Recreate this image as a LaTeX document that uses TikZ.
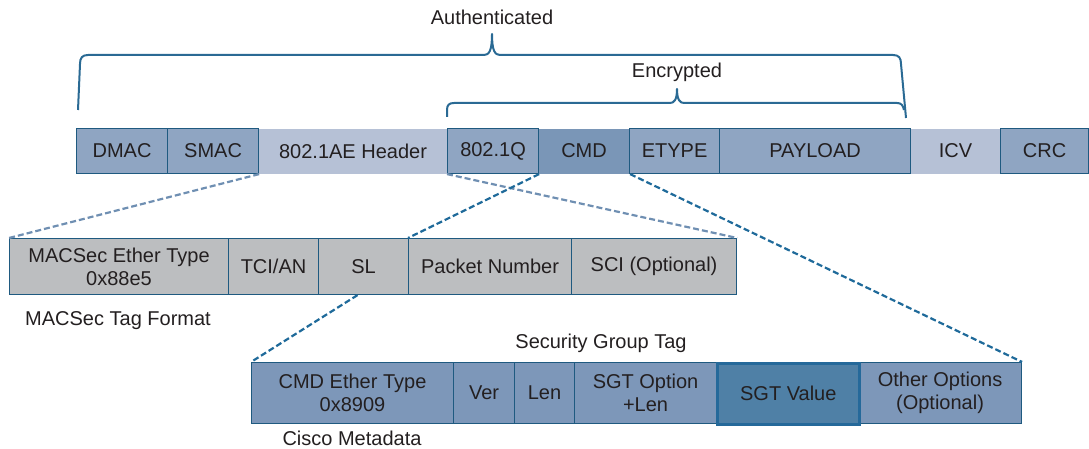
\documentclass[tikz,border=0pt]{standalone}
\usepackage{fontspec}
\setmainfont{Liberation Sans}
\definecolor{txt}{HTML}{231F20}
\definecolor{bord}{HTML}{1F5A80}
\definecolor{topfill}{HTML}{8FA5C2}
\definecolor{lightfill}{HTML}{B6C1D6}
\definecolor{cmdfill}{HTML}{7A96B7}
\definecolor{grayfill}{HTML}{BCBEC0}
\definecolor{botfill}{HTML}{7D97B9}
\definecolor{sgtfill}{HTML}{4F80A6}
\definecolor{sgtbord}{HTML}{25699A}
\definecolor{dashlight}{HTML}{6F8FB2}
\definecolor{dashdark}{HTML}{1F6A9A}
\definecolor{bracecol}{HTML}{2A6A94}
\tikzset{
  fieldbox/.style={rectangle, anchor=north west, inner sep=0pt, align=center,
    text=txt, font=\fontsize{20}{23}\selectfont, line width=1.1pt, draw=bord},
  topbox/.style={fieldbox, fill=topfill, minimum height=45pt},
  toplight/.style={fieldbox, draw=none, fill=lightfill, minimum height=45pt},
  topcmd/.style={fieldbox, draw=none, fill=cmdfill, minimum height=45pt},
  midbox/.style={fieldbox, fill=grayfill, minimum height=56pt},
  botbox/.style={fieldbox, fill=botfill, minimum height=61pt},
  sgtbox/.style={fieldbox, fill=sgtfill, draw=sgtbord, line width=2.6pt, minimum height=61pt},
  lbl/.style={text=txt, font=\fontsize{20}{23}\selectfont, inner sep=0pt},
  dashlt/.style={draw=dashlight, line width=2.2pt, dash pattern=on 6pt off 3pt},
  dashdk/.style={draw=dashdark, line width=2.2pt, dash pattern=on 6pt off 3pt},
  bracestyle/.style={draw=bracecol, line width=2pt, line join=round}
}
\begin{document}
\begin{tikzpicture}[x=1pt,y=-1pt]
\useasboundingbox (0,0) rectangle (1089,449);

% braces
\draw[bracestyle] (78,110) -- (80,64) .. controls (80,58) and (82,55) .. (88,55)
  -- (484,55) .. controls (489,55) and (492,51) .. (492,34)
  .. controls (492,51) and (495,55) .. (500,55)
  -- (893,55) .. controls (899,55) and (901,58) .. (901,64) -- (906,118);
\draw[bracestyle] (447,117) -- (447,110) .. controls (447,105) and (449,103) .. (454,103)
  -- (670,103) .. controls (674,103) and (677,100) .. (677,89)
  .. controls (677,100) and (680,103) .. (684,103)
  -- (897,103) .. controls (901,103) and (903,105) .. (904,110);

\node[lbl] (auth) at (492,17) {Authenticated};
\node[lbl] (enc) at (677,72) {Encrypted};

% top row
\node[topbox, minimum width=91pt] (dmac) at (76,128) {DMAC};
\node[topbox, minimum width=91pt] (smac) at (167,128) {SMAC};
\node[toplight, minimum width=189pt] (hdr) at (258,128) {802.1AE Header};
\node[topbox, minimum width=91pt] (q) at (447,128) {802.1Q};
\node[topcmd, minimum width=91pt] (cmd) at (538,128) {CMD};
\node[topbox, minimum width=90pt] (etype) at (629,128) {ETYPE};
\node[topbox, minimum width=191pt] (payload) at (719,128) {PAYLOAD};
\node[toplight, minimum width=90pt] (icv) at (910,128) {ICV};
\node[topbox, minimum width=88pt] (crc) at (1000,128) {CRC};

% middle row
\node[midbox, minimum width=219pt] (macsec) at (9,238) {MACSec Ether Type\\0x88e5};
\node[midbox, minimum width=90pt] (tci) at (228,238) {TCI/AN};
\node[midbox, minimum width=90pt] (sl) at (318,238) {SL};
\node[midbox, minimum width=163pt] (pn) at (408,238) {Packet Number};
\node[midbox, minimum width=165pt] (sci) at (571,238) {SCI (Optional)};
\node[lbl] (tagfmt) at (118,321) {MACSec Tag Format};

% bottom row
\node[lbl] (sgt) at (601,343) {Security Group Tag};
\node[botbox, minimum width=202pt] (cmdet) at (251,362) {CMD Ether Type\\0x8909};
\node[botbox, minimum width=61pt] (ver) at (453,362) {Ver};
\node[botbox, minimum width=60pt] (len) at (514,362) {Len};
\node[botbox, minimum width=142pt] (sgtopt) at (574,362) {SGT Option\\+Len};
\node[botbox, minimum width=163pt] (other) at (858,362) {Other Options\\(Optional)};
\node[sgtbox, minimum width=142pt] (sgtval) at (716,362) {SGT Value};
\node[lbl] (cisco) at (352,438) {Cisco Metadata};

% connectors
\draw[dashlt] (smac.south east) -- (macsec.north west);
\draw[dashlt] (q.south west) -- (sci.north east);
\draw[dashdk] (q.south east) -- (pn.north west);
\draw[dashdk] ([xshift=-6pt]sl.south) -- (cmdet.north west);
\draw[dashdk] (cmd.south east) -- (other.north east);
\end{tikzpicture}
\end{document}
